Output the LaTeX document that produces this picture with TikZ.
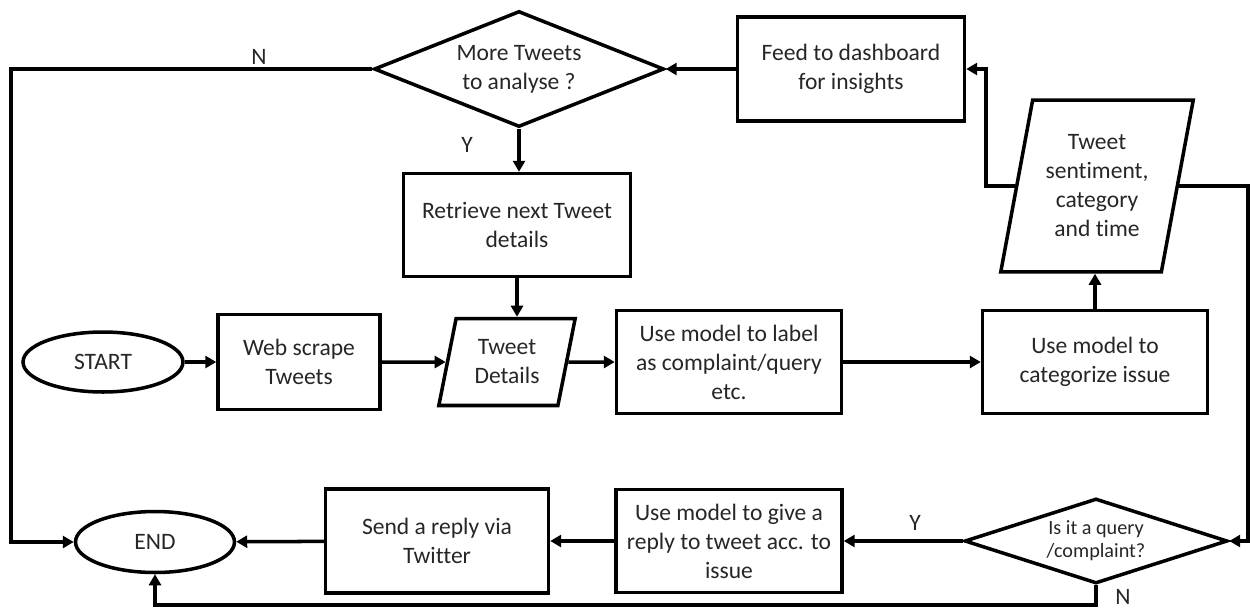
\documentclass[tikz,border=0pt]{standalone}
\usepackage{fontspec}
\setmainfont{Carlito}[Ligatures=NoCommon]
\usetikzlibrary{shapes.geometric,arrows.meta}

\tikzset{
  every node/.style={font=\fontsize{13.4}{16.5}\selectfont, text=black!85, align=center},
  box/.style={draw, line width=2pt, rectangle, inner sep=2pt},
  decision/.style={draw, line width=2pt, diamond, inner sep=0pt},
  terminal/.style={draw, line width=2pt, ellipse, inner sep=0pt, minimum width=3.2cm, minimum height=1.2cm},
  data/.style={draw, line width=2pt, trapezium, trapezium left angle=76, trapezium right angle=104,
    trapezium stretches=true, inner sep=0pt},
  arr/.style={line width=2pt, -{Triangle[length=2.2mm,width=2.4mm]}},
  lbl/.style={font=\fontsize{11.5}{13}\selectfont}
}

\begin{document}
\begin{tikzpicture}[x=0.02cm, y=-0.02cm]
    \useasboundingbox (0,0) rectangle (1250,609);

    % top row
    \node[decision, aspect=2.5, minimum width=5.8cm, minimum height=2.32cm] (more) at (519,69) {More Tweets\\to analyse ?};
    \node[box, minimum width=4.54cm, minimum height=2.08cm] (feed) at (851,69) {Feed to dashboard\\for insights};
    \node[box, minimum width=4.54cm, minimum height=2.06cm] (retr) at (517,225) {Retrieve next Tweet\\details};
    \node[data, minimum width=3.86cm, minimum height=3.44cm] (sent) at (1097,186) {Tweet\\sentiment,\\category\\and time};

    % middle row
    \node[terminal] (start) at (103,362) {START};
    \node[box, minimum width=3.24cm, minimum height=1.9cm] (web) at (299,362) {Web scrape\\Tweets};
    \node[data, minimum width=2.74cm, minimum height=1.74cm] (det) at (507,362) {Tweet\\Details};
    \node[box, minimum width=4.5cm, minimum height=2.06cm] (lab) at (729,362) {Use model to label\\as complaint/query\\etc.};
    \node[box, minimum width=4.5cm, minimum height=2.06cm] (cat) at (1095,362) {Use model to\\categorize issue};

    % bottom row
    \node[terminal, minimum width=3.18cm, minimum height=1.22cm] (end) at (155,542) {END};
    \node[box, minimum width=4.46cm, minimum height=2.08cm] (send) at (437,541) {Send a reply via\\Twitter};
    \node[box, minimum width=4.52cm, minimum height=2.06cm] (reply) at (729,541) {Use model to give a\\reply to tweet acc. to\\issue};
    \node[decision, aspect=3.1, minimum width=5.26cm, minimum height=1.7cm, lbl] (query) at (1096,541) {Is it a query\\/complaint?};

    % turning points
    \coordinate (lft) at (11,0);
    \coordinate (rgt) at (1248,0);
    \coordinate (bot) at (0,605);

    % connectors
    \draw[arr] (start) -- (web);
    \draw[arr] (web) -- (det);
    \draw[arr] (det) -- (lab);
    \draw[arr] (lab) -- (cat);
    \draw[arr] (cat.north) -- (cat.north |- sent.south);
    \draw[arr] (sent.west) -- ++(-29,0) |- (feed.east);
    \draw[arr] (feed) -- (more);
    \draw[arr] (more) -- (more |- retr.north);
    \draw[arr] (retr.south) -- (retr.south |- det.north);
    \draw[arr] (more.west) -- (more.west -| lft) |- (end.west);
    \draw[arr] (sent.east) -- (sent.east -| rgt) |- (query.east);
    \draw[arr] (query) -- (reply);
    \draw[arr] (reply) -- (send);
    \draw[arr] (send) -- (end);
    \draw[arr] (query.south) -- (query.south |- bot) -| (end.south);

    % branch labels
    \node (n1) at (259,57) {N};
    \node (y1) at (467,145) {Y};
    \node (y2) at (915,523) {Y};
    \node (n2) at (1123,597) {N};
\end{tikzpicture}
\end{document}
